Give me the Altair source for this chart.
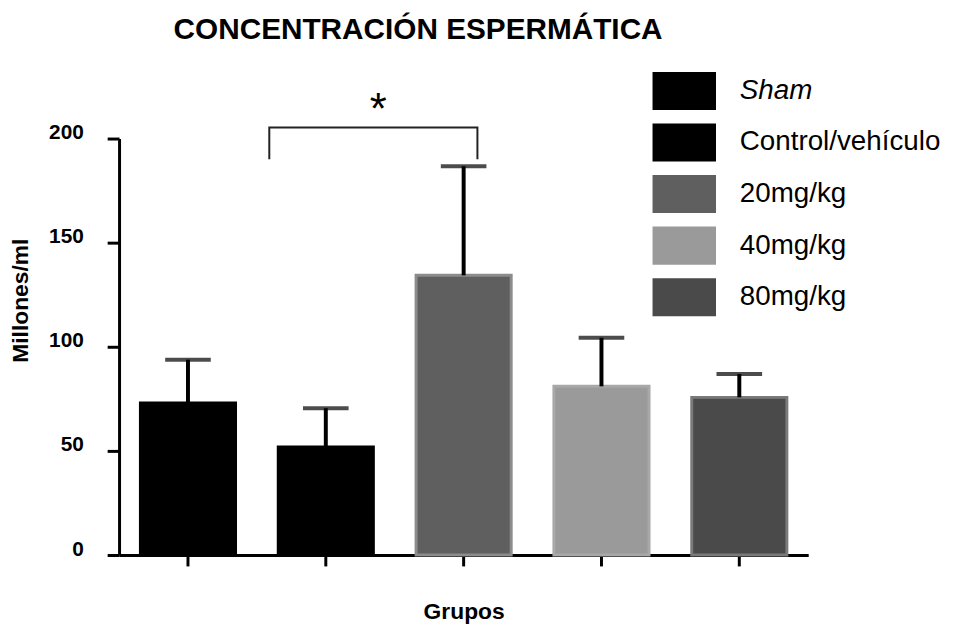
import altair as alt
import pandas as pd

# ---- data ----
groups = ["Sham", "Control/vehículo", "20mg/kg", "40mg/kg", "80mg/kg"]
means = [73.0, 51.9, 134.3, 81.0, 75.7]
sem = [20.8, 18.6, 52.4, 23.3, 11.2]

# significance bracket (x in group-position units, 0..5), and its label
bracket_x = [1.09, 1.09, 2.6, 2.6]
bracket_y = [190.0, 205.3, 205.3, 190.0]
star_x = [1.88]
star_y = [213.0]
star_text = ["*"]

fills = ["#000000", "#000000", "#5f5f5f", "#9a9a9a", "#4a4a4a"]
strokes = ["#000000", "#000000", "#8c8c8c", "#a8a8a8", "#7a7a7a"]

df = pd.DataFrame({
    "group": groups,
    "mean": means,
    "upper": [m + s for m, s in zip(means, sem)],
})
br = pd.DataFrame({"x": bracket_x, "y": bracket_y, "o": list(range(len(bracket_x)))})
st = pd.DataFrame({"x": star_x, "y": star_y, "t": star_text})

FONT = "Liberation Sans"

xband = alt.X(
    "group:N",
    sort=groups,
    scale=alt.Scale(paddingInner=0.31, paddingOuter=0.155),
    axis=alt.Axis(
        labels=False, title="Grupos", tickSize=11, tickWidth=3, tickColor="black",
        domainWidth=3, domainColor="black", titleFont=FONT, titleFontSize=23,
        titleFontWeight="bold", titlePadding=34, titleColor="black",
    ),
)
yq = alt.Y(
    "mean:Q",
    scale=alt.Scale(domain=[0, 200], nice=False),
    axis=alt.Axis(
        values=[0, 50, 100, 150, 200], title="Millones/ml", grid=False,
        tickSize=12, tickWidth=3, tickColor="black", domainWidth=3, domainColor="black",
        labelFont=FONT, labelFontSize=21, labelFontWeight="bold", labelColor="black",
        labelPadding=24, labelBaseline="alphabetic",
        titleFont=FONT, titleFontSize=23, titleFontWeight="bold", titleColor="black",
        titleX=-87, titleY=163,
    ),
)

symbol_rect = "M-1,-0.6H1V0.6H-1Z"

bars = alt.Chart(df).mark_bar(strokeWidth=3).encode(
    x=xband,
    y=yq,
    fill=alt.Fill(
        "group:N",
        sort=groups,
        scale=alt.Scale(domain=groups, range=fills),
        legend=alt.Legend(
            title=None, orient="none", legendX=538, legendY=-80,
            symbolType=symbol_rect, symbolSize=4096, symbolStrokeWidth=0,
            symbolOpacity=1, labelFont=FONT, labelFontSize=28, labelColor="black",
            labelOffset=24, rowPadding=0, padding=0, labelLimit=400,
            labelFontStyle={"expr": "datum.label == 'Sham' ? 'italic' : 'normal'"},
        ),
    ),
    stroke=alt.Stroke(
        "group:N", sort=groups, scale=alt.Scale(domain=groups, range=strokes), legend=None
    ),
)

err = alt.Chart(df).mark_rule(color="black", strokeWidth=4).encode(
    x=alt.X("group:N", sort=groups),
    y="mean:Q",
    y2="upper:Q",
)
caps = alt.Chart(df).mark_tick(color="black", thickness=4, size=46, orient="horizontal").encode(
    x=alt.X("group:N", sort=groups),
    y="upper:Q",
)

base_layer = alt.layer(bars, err, caps)

xq = alt.X("x:Q", scale=alt.Scale(domain=[0, 5], nice=False, zero=False), axis=None)
bracket = alt.Chart(br).mark_line(color="#222222", strokeWidth=2).encode(
    x=xq,
    y=alt.Y("y:Q", scale=alt.Scale(domain=[0, 200], nice=False)),
    order="o:Q",
)
star = alt.Chart(st).mark_text(font=FONT, fontSize=44, color="black", baseline="middle").encode(
    x=xq,
    y=alt.Y("y:Q", scale=alt.Scale(domain=[0, 200], nice=False)),
    text="t:N",
)
annot = alt.layer(bracket, star)

chart = alt.layer(base_layer, annot).resolve_scale(x="independent").properties(
    width=695,
    height=420,
    autosize=alt.AutoSizeParams(type="none"),
    padding={"left": 112, "top": 129, "right": 145, "bottom": 75},
    title=alt.TitleParams(
        "CONCENTRACIÓN ESPERMÁTICA", font=FONT, fontSize=30, fontWeight="bold",
        color="black", anchor="start", frame="group", dx=55, offset=14,
    ),
).configure_view(stroke=None)

chart.save("out.html", embed_options={"renderer": "svg", "actions": False})
